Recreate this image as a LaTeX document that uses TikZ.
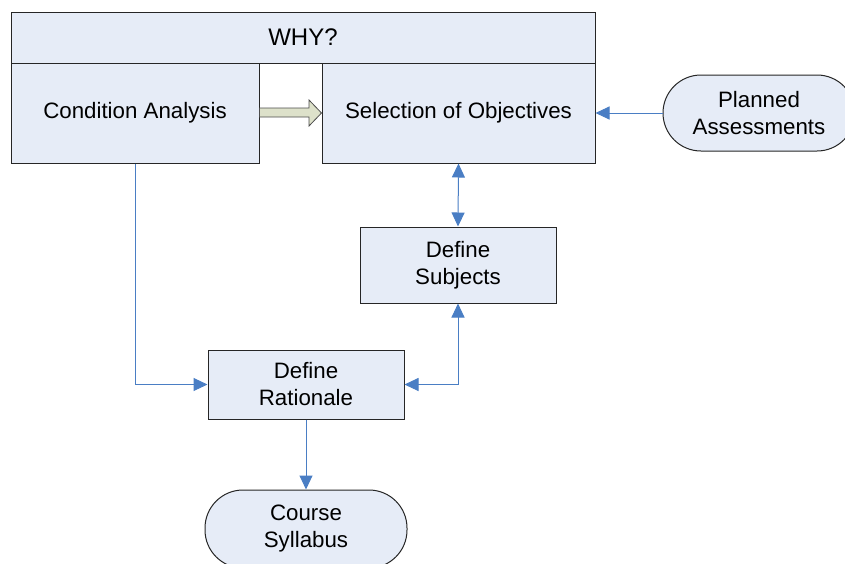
\documentclass[tikz,border=0pt]{standalone}
\usepackage{fontspec}
\setmainfont{Liberation Sans}
\usetikzlibrary{arrows.meta}
\definecolor{boxfill}{HTML}{E6ECF7}
\definecolor{linkblue}{HTML}{4A7EC4}
\definecolor{hollowfill}{HTML}{DDE1CA}
\tikzset{
  stepbox/.style={draw=black!85, line width=1pt, fill=boxfill, align=center,
    inner sep=0pt, font=\fontsize{22.3}{27}\selectfont},
  termbox/.style={stepbox, rounded corners=38pt},
  link/.style={draw=linkblue, line width=1pt, -{Triangle[length=14pt,width=13pt]}},
  dlink/.style={link, {Triangle[length=14pt,width=13pt]}-{Triangle[length=14pt,width=13pt]}}
}
\begin{document}
\begin{tikzpicture}[x=1pt,y=-1pt]
        \useasboundingbox (0,0) rectangle (845,563);
        % Boxes
        \node[stepbox, minimum width=584pt, minimum height=51pt, font=\fontsize{24}{28}\selectfont] (why) at (303,37.5) {WHY?};
        \node[stepbox, minimum width=248pt, minimum height=100pt] (cond) at (135,113) {Condition Analysis};
        \node[stepbox, minimum width=273pt, minimum height=100pt] (sel) at (458.5,113) {Selection of Objectives};
        \node[termbox, minimum width=192pt, minimum height=76pt] (plan) at (759,113) {Planned\\Assessments};
        \node[stepbox, minimum width=196pt, minimum height=76pt] (subj) at (458,265) {Define\\Subjects};
        \node[stepbox, minimum width=196pt, minimum height=69pt] (rat) at (306,384.5) {Define\\Rationale};
        \node[termbox, minimum width=202pt, minimum height=78pt] (course) at (306,529) {Course\\Syllabus};
        % Hollow arrow
        \draw[black!70, line width=0.8pt, fill=hollowfill]
          (cond.east |- 0,108) -- (309,108) -- (309,100) -- (sel.west |- 0,113)
          -- (309,126) -- (309,117) -- (cond.east |- 0,117) -- cycle;
        % Connectors
        \draw[link] (plan.west) -- (sel.east);
        \draw[dlink] (sel.south) -- (subj.north);
        \draw[link] (cond.south) -- (cond.south |- rat.west) -- (rat.west);
        \draw[dlink] (subj.south) -- (subj.south |- rat.east) -- (rat.east);
        \draw[link] (rat.south) -- (course.north);
\end{tikzpicture}
\end{document}
